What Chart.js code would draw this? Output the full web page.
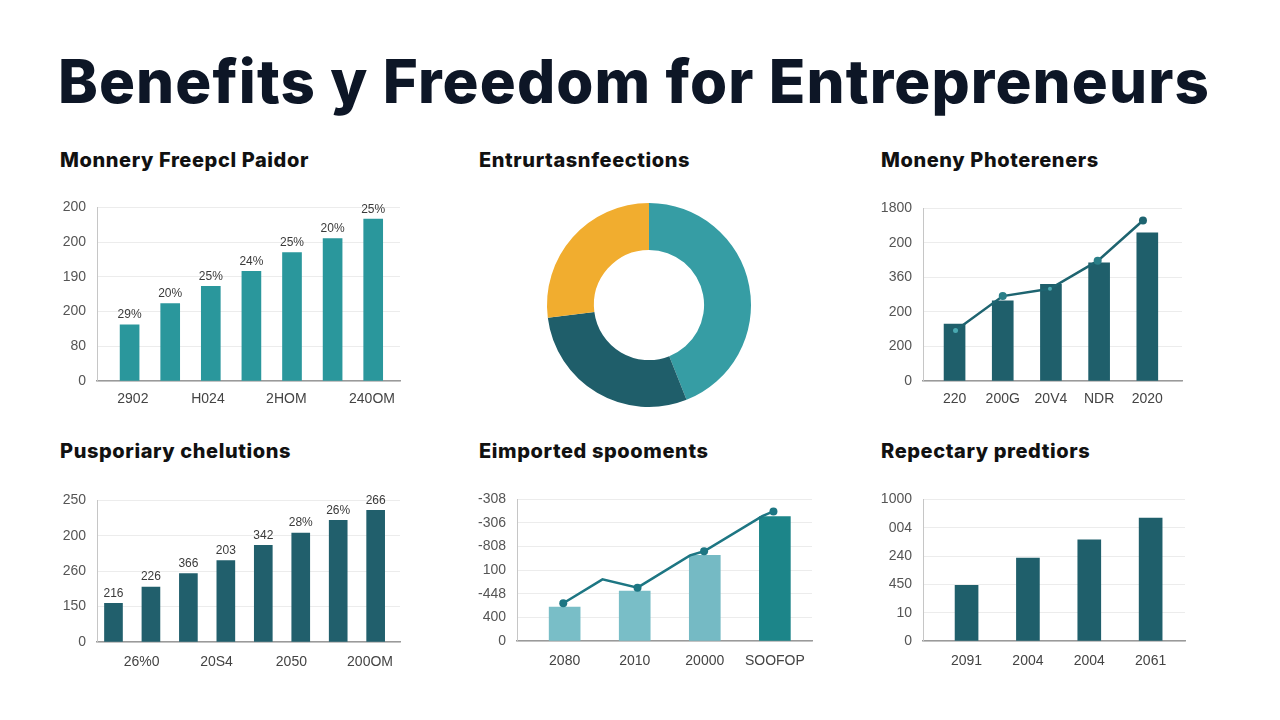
<!DOCTYPE html>
<html>
<head>
<meta charset="utf-8">
<title>Benefits y Freedom for Entrepreneurs</title>
<script src="https://cdn.jsdelivr.net/npm/chart.js@4.4.1/dist/chart.umd.min.js"></script>
<style>
    html, body { margin: 0; padding: 0; background: #ffffff; }
    body { width: 1280px; height: 720px; position: relative; overflow: hidden; font-family: Inter, 'Liberation Sans', sans-serif; }
    .title { position: absolute; left: 58px; top: 51px; font-size: 60px; font-weight: 800; color: #0d1626; line-height: 1; white-space: nowrap; letter-spacing: 1.1px; }
    .panel-title { position: absolute; font-size: 20px; font-weight: 800; color: #111111; line-height: 1; white-space: nowrap; letter-spacing: 0.6px; }
    .chart { position: absolute; }
</style>
</head>
<body>
<div class="title">Benefits y Freedom for Entrepreneurs</div>

<div class="panel-title" style="left:60px;top:150px">Monnery Freepcl Paidor</div>
<div class="panel-title" style="left:479px;top:150px">Entrurtasnfeections</div>
<div class="panel-title" style="left:881px;top:150px">Moneny Photereners</div>
<div class="panel-title" style="left:60px;top:441px">Pusporiary chelutions</div>
<div class="panel-title" style="left:479px;top:441px">Eimported spooments</div>
<div class="panel-title" style="left:881px;top:441px">Repectary predtiors</div>

<div class="chart" style="left:52px;top:188px;width:352px;height:223px"><canvas id="chart1"></canvas></div>
<div class="chart" style="left:534px;top:190px;width:230px;height:230px"><canvas id="chart2"></canvas></div>
<div class="chart" style="left:878px;top:189px;width:308px;height:222px"><canvas id="chart3"></canvas></div>
<div class="chart" style="left:52px;top:481px;width:352px;height:191px"><canvas id="chart4"></canvas></div>
<div class="chart" style="left:472px;top:480px;width:344px;height:191px"><canvas id="chart5"></canvas></div>
<div class="chart" style="left:878px;top:480px;width:311px;height:191px"><canvas id="chart6"></canvas></div>

<script>
// Panel 1 - Monnery Freepcl Paidor
const p1Values = [1.62, 2.23, 2.73, 3.16, 3.70, 4.10, 4.66];
const p1BarLabels = ['29%', '20%', '25%', '24%', '25%', '20%', '25%'];
const p1YTicks = ['0', '80', '200', '190', '200', '200'];
const p1XTickPos = [0.08, 1.93, 3.86, 5.97];
const p1XLabels = ['2902', 'H024', '2HOM', '240OM'];

// Panel 2 - Entrurtasnfeections
const p2Values = [44, 29, 27];

// Panel 3 - Moneny Photereners
const p3Bars = [1.65, 2.32, 2.80, 3.42, 4.29];
const p3LineX = [0.02, 1.0, 1.98, 2.97, 3.91];
const p3LineY = [1.46, 2.46, 2.67, 3.48, 4.65];
const p3YTicks = ['0', '200', '200', '360', '200', '1800'];
const p3XLabels = ['220', '200G', '20V4', 'NDR', '2020'];

// Panel 4 - Pusporiary chelutions
const p4Values = [1.09, 1.55, 1.93, 2.30, 2.73, 3.08, 3.44, 3.72];
const p4BarLabels = ['216', '226', '366', '203', '342', '28%', '26%', '266'];
const p4YTicks = ['0', '150', '260', '200', '250'];
const p4XTickPos = [0.75, 2.75, 4.75, 6.85];
const p4XLabels = ['26%0', '20S4', '2050', '200OM'];

// Panel 5 - Eimported spooments
const p5Bars = [1.44, 2.12, 3.63, 5.27];
const p5LineX = [-0.02, 0.54, 1.04, 1.79, 1.99, 2.82, 2.98];
const p5LineY = [1.60, 2.61, 2.26, 3.63, 3.80, 5.29, 5.49];
const p5YTicks = ['0', '400', '-448', '100', '-808', '-306', '-308'];
const p5XLabels = ['2080', '2010', '20000', 'SOOFOP'];

// Panel 6 - Repectary predtiors
const p6Values = [1.97, 2.93, 3.57, 4.34];
const p6YTicks = ['0', '10', '450', '240', '004', '1000'];
const p6XLabels = ['2091', '2004', '2004', '2061'];

Chart.defaults.font.family = "'Liberation Sans', Arial, sans-serif";
Chart.defaults.animation = false;
Chart.defaults.plugins.legend.display = false;
Chart.defaults.plugins.tooltip.enabled = false;

const barLabelPlugin = {
    id: 'barLabels',
    afterDatasetsDraw(chart, args, opts) {
        if (!opts.labels) {
            return;
        }
        const meta = chart.getDatasetMeta(0);
        const ctx = chart.ctx;
        ctx.save();
        ctx.font = "12px 'Liberation Sans', Arial, sans-serif";
        ctx.fillStyle = '#3a3a3a';
        ctx.textAlign = 'center';
        ctx.textBaseline = 'bottom';
        meta.data.forEach((bar, i) => ctx.fillText(opts.labels[i], bar.x, bar.y - 4));
        ctx.restore();
    },
};

function yAxis(labels, padding) {
    return {
        min: 0,
        max: labels.length - 1,
        afterFit: (scale) => { scale.width = 45; },
        afterBuildTicks: (scale) => { scale.ticks = labels.map((l, i) => ({ value: i })); },
        ticks: { callback: (v, i) => labels[i], padding, color: '#555555', font: { size: 14 } },
        grid: { color: '#ececec', drawTicks: false },
        border: { color: '#c6c6c6' },
    };
}

function xAxis(min, max, positions, labels, padding) {
    return {
        type: 'linear',
        min,
        max,
        offset: false,
        afterFit: (scale) => { scale.height = 30; },
        afterBuildTicks: (scale) => { scale.ticks = positions.map((v) => ({ value: v })); },
        ticks: { callback: (v, i) => labels[i], padding, color: '#444444', font: { size: 14 }, maxRotation: 0, autoSkip: false },
        grid: { display: false, offset: false },
        border: { color: '#9a9a9a', width: 1.5 },
    };
}

const layoutPad = { top: 14, right: 4, left: 0, bottom: 0 };
const points = (ys, xs) => ys.map((y, i) => ({ x: xs ? xs[i] : i, y }));

new Chart(document.getElementById('chart1'), {
    type: 'bar',
    plugins: [barLabelPlugin],
    data: {
        datasets: [{ data: points(p1Values), backgroundColor: '#2a979c', barThickness: 19 }],
    },
    options: {
        responsive: true,
        maintainAspectRatio: false,
        layout: { padding: layoutPad },
        plugins: { barLabels: { labels: p1BarLabels } },
        scales: {
            x: xAxis(-0.803, 6.66, p1XTickPos, p1XLabels, 2),
            y: yAxis(p1YTicks, 11),
        },
    },
});

new Chart(document.getElementById('chart2'), {
    type: 'doughnut',
    data: {
        labels: ['A', 'B', 'C'],
        datasets: [{
            data: p2Values,
            backgroundColor: ['#369da4', '#1f5e6a', '#f1ad2f'],
            borderWidth: 0,
        }],
    },
    options: {
        responsive: true,
        maintainAspectRatio: false,
        cutout: '54%',
        layout: { padding: 13 },
    },
});

new Chart(document.getElementById('chart3'), {
    type: 'bar',
    data: {
        datasets: [
            {
                type: 'line',
                data: points(p3LineY, p3LineX),
                borderColor: '#1e6470',
                borderWidth: 2.5,
                tension: 0,
                pointRadius: [2.5, 4, 2, 4, 4],
                pointBackgroundColor: ['#4aa9b1', '#2a7f88', '#4aa9b1', '#2a7f88', '#1e6470'],
                pointBorderWidth: 0,
                order: 0,
            },
            { data: points(p3Bars), backgroundColor: '#1f5f6b', barThickness: 21, order: 1 },
        ],
    },
    options: {
        responsive: true,
        maintainAspectRatio: false,
        layout: { padding: layoutPad },
        scales: {
            x: xAxis(-0.655, 4.72, [0, 1, 2, 3, 4], p3XLabels, 2),
            y: yAxis(p3YTicks, 11),
        },
    },
});

new Chart(document.getElementById('chart4'), {
    type: 'bar',
    plugins: [barLabelPlugin],
    data: {
        datasets: [{ data: points(p4Values), backgroundColor: '#215f6c', barThickness: 18 }],
    },
    options: {
        responsive: true,
        maintainAspectRatio: false,
        layout: { padding: layoutPad },
        plugins: { barLabels: { labels: p4BarLabels } },
        scales: {
            x: xAxis(-0.44, 7.65, p4XTickPos, p4XLabels, 4),
            y: yAxis(p4YTicks, 11),
        },
    },
});

new Chart(document.getElementById('chart5'), {
    type: 'bar',
    data: {
        datasets: [
            {
                type: 'line',
                data: points(p5LineY, p5LineX),
                borderColor: '#1d7683',
                borderWidth: 2.5,
                tension: 0,
                pointRadius: [4, 0, 4, 0, 4, 0, 4],
                pointBackgroundColor: '#1d7683',
                pointBorderWidth: 0,
                order: 0,
            },
            {
                data: points(p5Bars),
                backgroundColor: ['#79bec7', '#79bec7', '#75bac4', '#1c8589'],
                barThickness: 31,
                order: 1,
            },
        ],
    },
    options: {
        responsive: true,
        maintainAspectRatio: false,
        layout: { padding: layoutPad },
        scales: {
            x: xAxis(-0.68, 3.53, [0, 1, 2, 3], p5XLabels, 4),
            y: yAxis(p5YTicks, 11),
        },
    },
});

new Chart(document.getElementById('chart6'), {
    type: 'bar',
    data: {
        datasets: [{ data: points(p6Values), backgroundColor: '#1f5f6b', barThickness: 23 }],
    },
    options: {
        responsive: true,
        maintainAspectRatio: false,
        layout: { padding: layoutPad },
        scales: {
            x: xAxis(-0.71, 3.56, [0, 1, 2, 3], p6XLabels, 4),
            y: yAxis(p6YTicks, 11),
        },
    },
});
</script>
</body>
</html>
